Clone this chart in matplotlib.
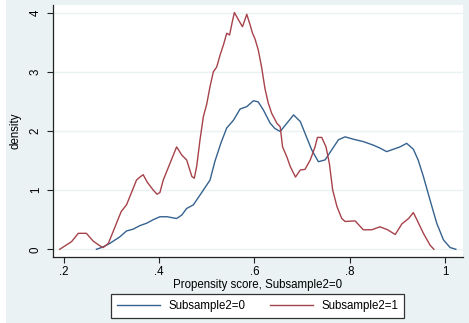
import matplotlib
matplotlib.use("Agg")
import matplotlib.pyplot as plt
from matplotlib.lines import Line2D
from matplotlib.patches import Rectangle

plt.rcParams['font.family'] = ['Liberation Sans', 'DejaVu Sans']

# Kernel density estimates of the propensity score by subsample
score_0 = [0.269, 0.283, 0.297, 0.318, 0.332, 0.346, 0.360, 0.374, 0.388, 0.402,
           0.417, 0.437, 0.448, 0.458, 0.472, 0.493, 0.507, 0.517, 0.530, 0.542,
           0.556, 0.570, 0.584, 0.598, 0.608, 0.619, 0.633, 0.643, 0.654, 0.668,
           0.682, 0.696, 0.706, 0.720, 0.734, 0.748, 0.762, 0.776, 0.790, 0.807,
           0.828, 0.849, 0.863, 0.877, 0.891, 0.905, 0.919, 0.933, 0.943, 0.954,
           0.968, 0.982, 0.996, 1.010, 1.022]
density_0 = [0.00, 0.04, 0.10, 0.21, 0.31, 0.34, 0.40, 0.44, 0.50, 0.55,
             0.55, 0.52, 0.58, 0.69, 0.75, 1.00, 1.17, 1.48, 1.80, 2.05,
             2.18, 2.37, 2.41, 2.51, 2.49, 2.35, 2.13, 2.04, 1.99, 2.13,
             2.27, 2.16, 1.96, 1.68, 1.48, 1.51, 1.68, 1.85, 1.90, 1.86,
             1.82, 1.76, 1.71, 1.65, 1.69, 1.73, 1.79, 1.69, 1.51, 1.23,
             0.83, 0.44, 0.16, 0.03, 0.00]

score_1 = [0.192, 0.217, 0.231, 0.248, 0.262, 0.276, 0.283, 0.294, 0.308, 0.321,
           0.332, 0.342, 0.353, 0.360, 0.367, 0.375, 0.388, 0.396, 0.402, 0.409,
           0.423, 0.437, 0.448, 0.458, 0.469, 0.474, 0.479, 0.486, 0.493, 0.500,
           0.507, 0.514, 0.521, 0.528, 0.535, 0.542, 0.548, 0.553, 0.558, 0.567,
           0.575, 0.584, 0.591, 0.596, 0.601, 0.608, 0.615, 0.622, 0.629, 0.636,
           0.647, 0.654, 0.659, 0.668, 0.675, 0.686, 0.696, 0.706, 0.717, 0.727,
           0.732, 0.741, 0.750, 0.757, 0.764, 0.773, 0.783, 0.790, 0.811, 0.828,
           0.846, 0.863, 0.879, 0.895, 0.909, 0.923, 0.933, 0.941, 0.954, 0.968,
           0.976]
density_1 = [0.00, 0.13, 0.27, 0.27, 0.14, 0.06, 0.03, 0.10, 0.38, 0.64,
             0.75, 0.95, 1.17, 1.22, 1.26, 1.14, 1.00, 0.93, 0.96, 1.17,
             1.45, 1.73, 1.59, 1.51, 1.23, 1.20, 1.40, 1.85, 2.24, 2.45,
             2.75, 3.00, 3.08, 3.28, 3.45, 3.65, 3.62, 3.82, 4.00, 3.87,
             3.76, 3.97, 3.79, 3.65, 3.56, 3.37, 3.08, 2.72, 2.47, 2.30,
             2.13, 2.07, 1.73, 1.56, 1.40, 1.22, 1.34, 1.35, 1.51, 1.73,
             1.89, 1.89, 1.73, 1.45, 1.00, 0.72, 0.52, 0.47, 0.48, 0.33,
             0.33, 0.38, 0.33, 0.25, 0.43, 0.52, 0.62, 0.49, 0.27, 0.07,
             0.00]

x_ticks = [0.2, 0.4, 0.6, 0.8, 1.0]
x_tick_labels = ['.2', '.4', '.6', '.8', '1']
y_ticks = [0, 1, 2, 3, 4]
series_labels = ['Subsample2=0', 'Subsample2=1']

NAVY = '#35628F'
MAROON = '#A6424A'
REGION = '#EAF2F3'
FS = 8.3

W, H = 469, 323
fig = plt.figure(figsize=(W / 100, H / 100), dpi=100, facecolor=REGION)
fig.patches.append(Rectangle((0, 0), 6 / W, 1, transform=fig.transFigure,
                             facecolor='white', edgecolor='none', zorder=0))

ax = fig.add_axes([53 / W, (H - 256.7) / H, (463 - 53) / W, (256.7 - 5) / H])
ax.set_facecolor('white')

ax.plot(score_0, density_0, color=NAVY, lw=1.0, label=series_labels[0])
ax.plot(score_1, density_1, color=MAROON, lw=1.0, label=series_labels[1])

ax.set_xlim(0.178, 1.037)
ax.set_ylim(-0.125, 4.127)
ax.set_xticks(x_ticks)
ax.set_xticklabels(x_tick_labels)
ax.set_yticks(y_ticks)
ax.set_yticklabels([str(v) for v in y_ticks], rotation=90, va='center')

ax.grid(axis='y', color=REGION, lw=1.0)
ax.set_axisbelow(True)
for side in ('top', 'right'):
    ax.spines[side].set_visible(False)
for side in ('left', 'bottom'):
    ax.spines[side].set_color('#222222')
    ax.spines[side].set_linewidth(0.9)
ax.tick_params(axis='both', direction='out', length=4, width=0.8,
               color='#222222', labelsize=FS, labelcolor='black')
ax.tick_params(axis='y', pad=4)
ax.tick_params(axis='x', pad=2.5)

ax.set_xlabel('Propensity score, Subsample2=0', fontsize=FS, labelpad=0.8)
ax.set_ylabel('density', fontsize=FS, labelpad=6)

handles = [Line2D([], [], color=NAVY, lw=1.0), Line2D([], [], color=MAROON, lw=1.0)]
leg = fig.legend(handles, series_labels, ncol=2, loc='center',
                 bbox_to_anchor=((109 + 406) / 2 / W, 1 - 306 / H),
                 fontsize=FS, frameon=True, fancybox=False, framealpha=1,
                 edgecolor='#333333', handlelength=3.8, columnspacing=2.1,
                 handletextpad=0.7, borderpad=0.5)
leg.get_frame().set_linewidth(0.9)

fig.savefig('out.png', dpi=100, facecolor=REGION)
